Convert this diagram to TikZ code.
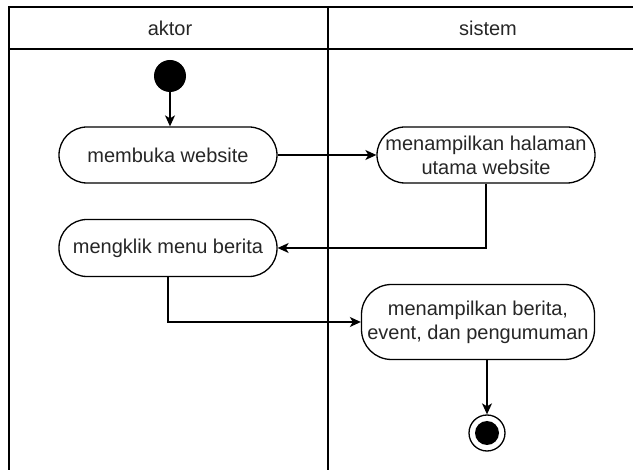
\documentclass[tikz,border=0pt]{standalone}
\usepackage{fontspec}
\setmainfont{Liberation Sans}
\usetikzlibrary{positioning}
\usetikzlibrary{calc}
\usetikzlibrary{arrows.meta}

\begin{document}
\begin{tikzpicture}
  [ x=1pt, y=-1pt
  , every node/.style={ font=\fontsize{20}{24}\selectfont
                      , text=black!85
                      }
  , activity/.style={ draw
                    , line width=1.3pt
                    , rounded corners=28pt
                    , minimum width=218pt
                    , minimum height=56pt
                    , inner sep=0pt
                    , align=center
                    }
  , flow/.style={ line width=1.3pt
                , -{Stealth[length=11pt, width=10pt, inset=3pt]}
                }
  ]

  \useasboundingbox (0,0) rectangle (633,470);

  % swimlanes
  \draw [line width=1.6pt] (633,7) -- (9,7) -- (9,470);
  \draw [line width=1.6pt] (9,49) -- (633,49);
  \draw [line width=2.2pt] (328,7) -- (328,470);
  \node (aktor)  at (170,28) {aktor};
  \node (sistem) at (488,28) {sistem};

  % activities
  \node (start) [circle, fill=black, minimum size=32pt, inner sep=0pt] at (170,76) {};
  \node (membuka)  [activity] at (168,155) {membuka website};
  \node (halaman)  [activity] at (486,155) {menampilkan halaman\\utama website};
  \node (mengklik) [activity, minimum height=57pt] at (168,248) {mengklik menu berita};
  \node (berita)   [activity, minimum width=233pt, minimum height=75pt, rounded corners=30pt]
    at (478,322) {menampilkan berita,\\event, dan pengumuman};
  \node (stop) [circle, draw, line width=1.3pt, minimum size=36pt, inner sep=0pt] at (487,433) {};
  \node (stopdot) [circle, fill=black, minimum size=24pt, inner sep=0pt] at (stop.center) {};

  \draw [flow] (start) -- (start |- membuka.north);
  \draw [flow] (membuka) -- (halaman);
  \draw [flow] (halaman.south) |- (mengklik.east);
  \draw [flow] (mengklik.south) |- (berita.west);
  \draw [flow] (berita.south -| stop) -- (stop);

\end{tikzpicture}
\end{document}
